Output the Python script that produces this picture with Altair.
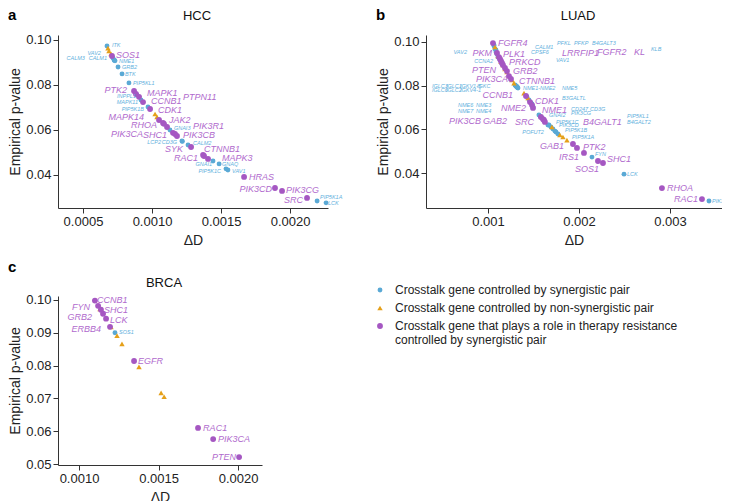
import altair as alt
import pandas as pd

S = "Crosstalk gene controlled by synergistic pair"
N = "Crosstalk gene controlled by non-synergistic pair"
R = "Crosstalk gene that plays a role in therapy resistance controlled by synergistic pair"
categories = [S, N, R]
point_colors = ["#5AA9D5", "#E5A019", "#A557C2"]
point_shapes = ["circle", "triangle-up", "circle"]
text_blue = "#62B0DD"
text_purple = "#B06ACD"
FONT = "Liberation Sans"

# ---------------- HCC ----------------
hcc_s_genes = ["ITK", "VAV2", "CALM3", "CALM1", "NME1", "GRB2", "BTK", "PIP5KL1", "INPPL1", "MAPK11",
               "PIP5K1B", "GNAI3", "LCP2", "CD3G", "CALM2", "GNAI1", "GNAQ", "PIP5K1C", "VAV1",
               "PIP5K1A", "LCK"]
hcc_s_dx = [0.000674, 0.000717, 0.000725, 0.000728, 0.000732, 0.000754, 0.000783, 0.000833, 0.000891, 0.000920,
            0.000971, 0.001130, 0.001217, 0.001220, 0.001261, 0.001442, 0.001486, 0.001536, 0.001550,
            0.002196, 0.002261]
hcc_s_p = [0.0973, 0.0920, 0.0911, 0.0909, 0.0907, 0.0880, 0.0849, 0.0809, 0.0756, 0.0733,
           0.0702, 0.0600, 0.0551, 0.0549, 0.0533, 0.0462, 0.0449, 0.0427, 0.0422,
           0.0284, 0.0276]
hcc_s_lx = [0.000710, 0.000630, 0.000514, 0.000674, 0.000761, 0.000783, 0.000804, 0.000862, 0.000884, 0.000899,
            0.000942, 0.001159, 0.001065, 0.001181, 0.001297, 0.001435, 0.001507, 0.001500, 0.001580,
            0.002217, 0.002275]
hcc_s_ly = [0.0978, 0.0942, 0.0920, 0.0920, 0.0907, 0.0880, 0.0849, 0.0809, 0.0751, 0.0724,
            0.0693, 0.0609, 0.0547, 0.0547, 0.0542, 0.0449, 0.0449, 0.0418, 0.0418,
            0.0302, 0.0276]
hcc_s_side = ["L", "R", "R", "R", "L", "L", "L", "L", "R", "R",
              "R", "L", "R", "R", "L", "R", "L", "R", "L",
              "L", "L"]
hcc_n_dx = [0.000681, 0.000688, 0.000703, 0.001022, 0.001036]
hcc_n_p = [0.0964, 0.0951, 0.0938, 0.0671, 0.0658]
hcc_r_genes = ["SOS1", "PTK2", "MAPK1", "PTPN11", "CCNB1", "CDK1", "MAPK14", "RHOA", "JAK2", "PIK3R1",
               "SHC1", "PIK3CA", "PIK3CB", "SYK", "CTNNB1", "RAC1", "MAPK3", "HRAS", "PIK3CD", "PIK3CG", "SRC"]
hcc_r_dx = [0.000710, 0.000870, 0.000884, 0.000906, 0.000935, 0.000986, 0.001051, 0.001080, 0.001087, 0.001109,
            0.001152, 0.001167, 0.001181, 0.001283, 0.001370, 0.001377, 0.001406, 0.001667, 0.001891, 0.001942,
            0.002123]
hcc_r_p = [0.0929, 0.0773, 0.0760, 0.0747, 0.0724, 0.0693, 0.0644, 0.0631, 0.0627, 0.0613,
           0.0587, 0.0582, 0.0573, 0.0524, 0.0489, 0.0484, 0.0471, 0.0391, 0.0342, 0.0329, 0.0298]
hcc_r_lx = [0.000739, 0.000819, 0.000964, 0.001225, 0.000993, 0.001043, 0.000942, 0.001036, 0.001123, 0.001297,
            0.001109, 0.000935, 0.001225, 0.001225, 0.001377, 0.001333, 0.001507, 0.001703, 0.001870, 0.001971,
            0.002094]
hcc_r_ly = [0.0933, 0.0778, 0.0764, 0.0747, 0.0729, 0.0689, 0.0658, 0.0622, 0.0644, 0.0618,
            0.0578, 0.0582, 0.0578, 0.0516, 0.0516, 0.0476, 0.0476, 0.0391, 0.0338, 0.0333, 0.0289]
hcc_r_side = ["L", "R", "L", "L", "L", "L", "R", "R", "L", "L",
              "R", "R", "L", "R", "L", "R", "L", "L", "R", "L", "R"]

# ---------------- LUAD ----------------
luad_s_genes = ["VAV2", "CCNA2", "CALM1", "CPSF6", "PFKL", "PFKP", "B4GALT3", "VAV1", "KLB",
                "IGLC3", "IGLC1", "IGKV1-5", "IGKC", "IGLC6", "IGLC2", "IGKV4-1", "NME1-NME2", "NME5",
                "NME6", "NME3", "NME7", "NME4", "B3GALTL", "GNAI2", "CD247", "CD3G", "PIK3CG",
                "PIP5K1C", "PIK3CD", "PIP5KL1", "B4GALT2", "POFUT2", "PIP5K1B", "PIP5K1A",
                "FYN", "LCK", "PIK3R1"]
luad_s_dx = [0.001088, 0.001110, 0.001066, 0.001099, 0.001077, 0.001088, 0.001066, 0.001132, 0.001154,
             0.001297, 0.001302, 0.001308, 0.001313, 0.001319, 0.001319, 0.001319, 0.001324, 0.001330,
             0.001429, 0.001451, 0.001473, 0.001484, 0.001495, 0.001560, 0.001582, 0.001593, 0.001615,
             0.001659, 0.001736, 0.001670, 0.001692, 0.001714, 0.001747, 0.001769,
             0.002143, 0.002495, 0.003429]
luad_s_p = [0.0954, 0.0931, 0.0982, 0.0945, 0.0968, 0.0963, 0.0986, 0.0918, 0.0899,
            0.0803, 0.0801, 0.0798, 0.0796, 0.0794, 0.0794, 0.0794, 0.0792, 0.0789,
            0.0748, 0.0735, 0.0721, 0.0716, 0.0703, 0.0666, 0.0657, 0.0652, 0.0643,
            0.0620, 0.0592, 0.0620, 0.0611, 0.0602, 0.0588, 0.0579,
            0.0473, 0.0395, 0.0272]
luad_s_lx = [0.000769, 0.001055, 0.001517, 0.001473, 0.001758, 0.001945, 0.002143, 0.001747, 0.002791,
             0.000385, 0.000538, 0.000692, 0.000879, 0.000385, 0.000538, 0.000692, 0.001385, 0.001813,
             0.000670, 0.000868, 0.000670, 0.000868, 0.001813, 0.001670, 0.001912, 0.002121, 0.001912,
             0.001747, 0.001780, 0.002528, 0.002528, 0.001615, 0.001846, 0.001923,
             0.002176, 0.002528, 0.003462]
luad_s_ly = [0.0954, 0.0913, 0.0977, 0.0954, 0.0995, 0.0995, 0.0995, 0.0918, 0.0968,
             0.0798, 0.0798, 0.0798, 0.0798, 0.0780, 0.0780, 0.0780, 0.0789, 0.0789,
             0.0711, 0.0711, 0.0684, 0.0684, 0.0744, 0.0666, 0.0693, 0.0693, 0.0675,
             0.0634, 0.0620, 0.0661, 0.0634, 0.0588, 0.0597, 0.0565,
             0.0487, 0.0395, 0.0272]
luad_s_side = ["R", "R", "L", "L", "L", "L", "L", "L", "L",
               "L", "L", "L", "L", "L", "L", "L", "L", "L",
               "L", "L", "L", "L", "L", "L", "L", "L", "L",
               "L", "L", "L", "L", "R", "L", "L",
               "L", "L", "L"]
luad_n_dx = [0.001077, 0.001110, 0.001143, 0.001165, 0.001187, 0.001209, 0.001231, 0.001264, 0.001286,
             0.001396, 0.001440, 0.001703, 0.001791, 0.001824, 0.001868]
luad_n_p = [0.0977, 0.0936, 0.0910, 0.0895, 0.0877, 0.0863, 0.0845, 0.0826, 0.0812,
            0.0766, 0.0744, 0.0611, 0.0574, 0.0565, 0.0551]
luad_r_genes = ["FGFR4", "PKM", "LRRFIP1", "PLK1", "FGFR2", "PRKCD", "KL", "PTEN", "GRB2", "PIK3CA",
                "CTNNB1", "CCNB1", "CDK1", "NME2", "NME1", "PIK3CB", "SRC", "B4GALT1", "GAB2",
                "GAB1", "PTK2", "IRS1", "SHC1", "SOS1", "RHOA", "RAC1"]
luad_r_dx = [0.001055, 0.001099, 0.001121, 0.001132, 0.001143, 0.001154, 0.001165, 0.001187, 0.001209, 0.001231,
             0.001253, 0.001418, 0.001462, 0.001484, 0.001495, 0.001582, 0.001604, 0.001615, 0.001626,
             0.001934, 0.001978, 0.002055, 0.002209, 0.002264, 0.002912, 0.003352]
luad_r_p = [0.0995, 0.0950, 0.0931, 0.0922, 0.0913, 0.0904, 0.0895, 0.0881, 0.0867, 0.0844,
            0.0831, 0.0753, 0.0725, 0.0711, 0.0698, 0.0657, 0.0647, 0.0643, 0.0634,
            0.0533, 0.0515, 0.0492, 0.0455, 0.0446, 0.0331, 0.0281]
luad_r_lx = [0.001110, 0.001044, 0.001813, 0.001165, 0.002198, 0.001231, 0.002604, 0.001088, 0.001275, 0.001220,
             0.001341, 0.001275, 0.001517, 0.001418, 0.001593, 0.000923, 0.001505, 0.002044, 0.001209,
             0.001835, 0.002044, 0.002000, 0.002308, 0.002220, 0.002967, 0.003308]
luad_r_ly = [0.0995, 0.0950, 0.0950, 0.0945, 0.0954, 0.0908, 0.0954, 0.0872, 0.0867, 0.0831,
             0.0821, 0.0757, 0.0730, 0.0698, 0.0689, 0.0638, 0.0634, 0.0634, 0.0638,
             0.0524, 0.0519, 0.0473, 0.0464, 0.0418, 0.0331, 0.0281]
luad_r_side = ["L", "R", "L", "L", "L", "L", "L", "R", "L", "R",
               "L", "R", "L", "R", "L", "R", "R", "L", "R",
               "R", "L", "R", "L", "R", "L", "R"]

# ---------------- BRCA ----------------
brca_s_genes = ["SOS1"]
brca_s_dx = [0.001226]
brca_s_p = [0.0900]
brca_s_lx = [0.001252]
brca_s_ly = [0.0903]
brca_s_side = ["L"]
brca_n_dx = [0.001132, 0.001201, 0.001239, 0.001270, 0.001377, 0.001516, 0.001535]
brca_n_p = [0.0973, 0.0918, 0.0891, 0.0866, 0.0796, 0.0717, 0.0705]
brca_r_genes = ["CCNB1", "FYN", "SHC1", "GRB2", "LCK", "ERBB4", "EGFR", "RAC1", "PIK3CA", "PTEN"]
brca_r_dx = [0.001100, 0.001120, 0.001138, 0.001151, 0.001170, 0.001195, 0.001346, 0.001748, 0.001843, 0.002006]
brca_r_p = [0.0998, 0.0982, 0.0970, 0.0958, 0.0943, 0.0918, 0.0814, 0.0610, 0.0576, 0.0521]
brca_r_lx = [0.001113, 0.001069, 0.001157, 0.001082, 0.001195, 0.001138, 0.001371, 0.001780, 0.001874, 0.001987]
brca_r_ly = [0.1001, 0.0979, 0.0970, 0.0949, 0.0940, 0.0912, 0.0814, 0.0610, 0.0576, 0.0521]
brca_r_side = ["L", "R", "L", "R", "L", "R", "L", "L", "L", "R"]

hcc_x_ticks = [0.0005, 0.0010, 0.0015, 0.0020]
luad_x_ticks = [0.001, 0.002, 0.003]
brca_x_ticks = [0.0010, 0.0015, 0.0020]
ab_y_ticks = [0.04, 0.06, 0.08, 0.10]
c_y_ticks = [0.05, 0.06, 0.07, 0.08, 0.09, 0.10]


def points_table(s, n, r):
    rows = []
    for g, x, y in zip(s[0], s[1], s[2]):
        rows.append({"gene": g, "dx": x, "p": y, "cat": S})
    for x, y in zip(n[0], n[1]):
        rows.append({"gene": "", "dx": x, "p": y, "cat": N})
    for g, x, y in zip(r[0], r[1], r[2]):
        rows.append({"gene": g, "dx": x, "p": y, "cat": R})
    return pd.DataFrame(rows)


def label_table(grp, side):
    genes, lx, ly, sides = grp
    rows = [{"gene": g, "lx": a, "ly": b} for g, a, b, sd in zip(genes, lx, ly, sides) if sd == side]
    return pd.DataFrame(rows)


def make_panel(s, n, r, s_lab, r_lab, xdom, ydom, xticks, xfmt, yticks, w, h,
               title, title_y, letter, letter_y, clip, legend):
    xs = alt.Scale(domain=xdom, nice=False, zero=False)
    ys = alt.Scale(domain=ydom, nice=False, zero=False)
    xa = alt.Axis(values=xticks, format=xfmt, title="ΔD", titlePadding=5)
    ya = alt.Axis(values=yticks, format=".2f", title="Empirical p-value", titlePadding=3)
    pts = points_table(s, n, r)
    layers = [
        alt.Chart(pts).mark_point(filled=True, opacity=1, strokeWidth=0).encode(
            x=alt.X("dx:Q", scale=xs, axis=xa),
            y=alt.Y("p:Q", scale=ys, axis=ya),
            color=alt.Color("cat:N", scale=alt.Scale(domain=categories, range=point_colors), legend=legend),
            shape=alt.Shape("cat:N", scale=alt.Scale(domain=categories, range=point_shapes), legend=legend),
            size=alt.Size("cat:N", scale=alt.Scale(domain=categories, range=[24, 34, 24]), legend=None),
        )
    ]
    for grp, col, fs in [(s_lab, text_blue, 5.5), (r_lab, text_purple, 9)]:
        for side, align in [("L", "left"), ("R", "right")]:
            tab = label_table(grp, side)
            if len(tab) == 0:
                continue
            layers.append(
                alt.Chart(tab).mark_text(align=align, baseline="middle", fontStyle="italic",
                                         font=FONT, fontSize=fs, color=col, clip=clip).encode(
                    x=alt.X("lx:Q", scale=xs, axis=xa),
                    y=alt.Y("ly:Q", scale=ys, axis=ya),
                    text="gene:N",
                )
            )
    # panel letter and panel title
    layers.append(
        alt.Chart(pd.DataFrame({"t": [letter]})).mark_text(
            align="left", baseline="alphabetic", fontWeight="bold", fontSize=15, font=FONT, color="#000"
        ).encode(x=alt.value(-50), y=alt.value(letter_y), text="t:N")
    )
    layers.append(
        alt.Chart(pd.DataFrame({"t": [title]})).mark_text(
            align="center", baseline="alphabetic", fontSize=13, font=FONT, color="#111"
        ).encode(x=alt.value(w / 2 + 4), y=alt.value(title_y), text="t:N")
    )
    return alt.layer(*layers).properties(width=w, height=h)


legend = alt.Legend(
    orient="none", legendX=316, legendY=-12, title=None,
    labelFontSize=12, labelFont=FONT, labelColor="#222", symbolSize=42, symbolStrokeWidth=0,
    rowPadding=6, labelOffset=9, labelLimit=500, padding=0,
    labelExpr="datum.label == '" + R + "' ? ['Crosstalk gene that plays a role in therapy resistance', "
              "'controlled by synergistic pair'] : datum.label",
)

panel_a = make_panel(
    (hcc_s_genes, hcc_s_dx, hcc_s_p), (hcc_n_dx, hcc_n_p), (hcc_r_genes, hcc_r_dx, hcc_r_p),
    (hcc_s_genes, hcc_s_lx, hcc_s_ly, hcc_s_side), (hcc_r_genes, hcc_r_lx, hcc_r_ly, hcc_r_side),
    [0.000319, 0.002275], [0.0253, 0.1022], hcc_x_ticks, ".4f", ab_y_ticks, 270, 173,
    "HCC", -15, "a", -15, False, None)

panel_b = make_panel(
    (luad_s_genes, luad_s_dx, luad_s_p), (luad_n_dx, luad_n_p), (luad_r_genes, luad_r_dx, luad_r_p),
    (luad_s_genes, luad_s_lx, luad_s_ly, luad_s_side), (luad_r_genes, luad_r_lx, luad_r_ly, luad_r_side),
    [0.000319, 0.003572], [0.0240, 0.1032], luad_x_ticks, ".3f", ab_y_ticks, 296, 173,
    "LUAD", -15, "b", -15, True, None)

panel_c = make_panel(
    (brca_s_genes, brca_s_dx, brca_s_p), (brca_n_dx, brca_n_p), (brca_r_genes, brca_r_dx, brca_r_p),
    (brca_s_genes, brca_s_lx, brca_s_ly, brca_s_side), (brca_r_genes, brca_r_lx, brca_r_ly, brca_r_side),
    [0.000868, 0.00215], [0.0497, 0.1012], brca_x_ticks, ".4f", c_y_ticks, 204, 169,
    "BRCA", -9, "c", -24, False, legend)

chart = alt.concat(
    panel_a, panel_b, panel_c,
    columns=2,
    spacing={"row": 88, "column": 98},
    bounds="flush",
    padding={"left": 0, "top": 0, "right": 0, "bottom": 0},
).resolve_scale(
    color="independent", shape="independent", size="independent"
).configure_view(stroke=None).configure_axis(
    grid=False, domainColor="#333", tickColor="#333", labelColor="#222", titleColor="#222",
    labelFont=FONT, titleFont=FONT, labelFontSize=13, titleFontSize=14, titleFontWeight="normal",
    tickSize=5, labelPadding=2,
)

chart.save("out.html", embed_options={"renderer": "svg", "actions": False})
